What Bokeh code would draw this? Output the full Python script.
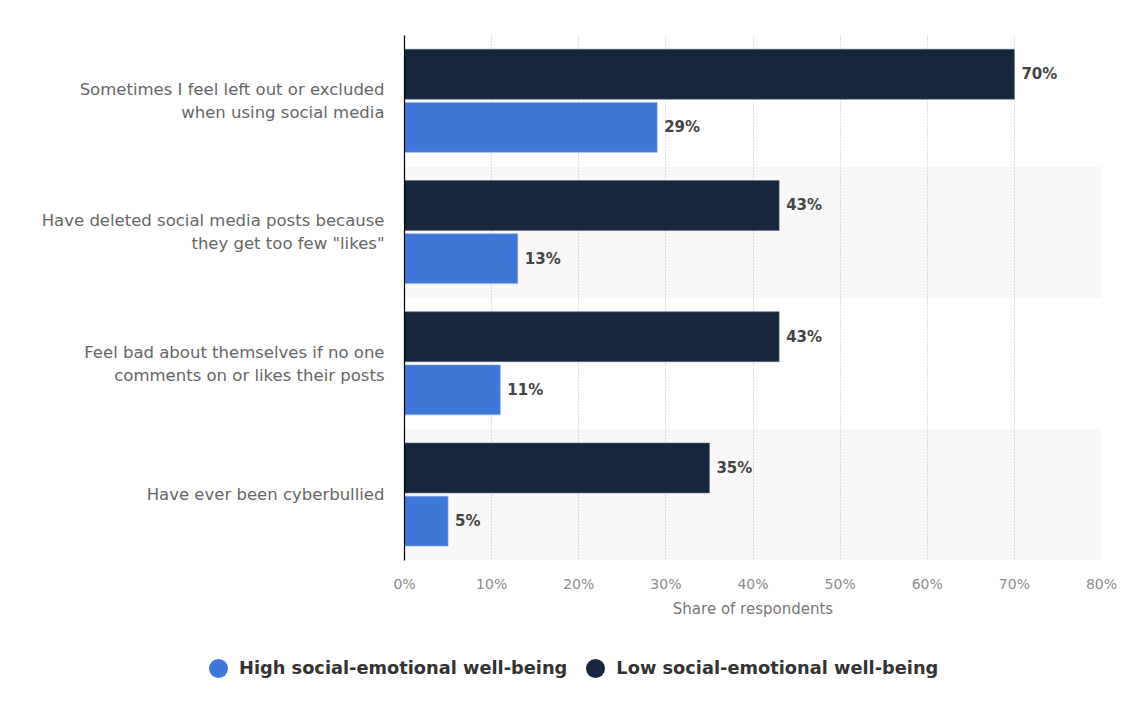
from bokeh.plotting import figure
from bokeh.layouts import column
from bokeh.models import ColumnDataSource, Range1d, FixedTicker, NumeralTickFormatter, Div
from bokeh.core.properties import value
from bokeh.embed import file_html
from bokeh.resources import INLINE

categories = [
    "Sometimes I feel left out or excluded\nwhen using social media",
    "Have deleted social media posts because\nthey get too few \"likes\"",
    "Feel bad about themselves if no one\ncomments on or likes their posts",
    "Have ever been cyberbullied",
]
low_values = [70, 43, 43, 35]
high_values = [29, 13, 11, 5]
series_names = ["High social-emotional well-being", "Low social-emotional well-being"]
x_ticks = [0, 10, 20, 30, 40, 50, 60, 70, 80]

LOW_COLOR = "#16263d"
HIGH_COLOR = "#3f77d9"
FONT = "DejaVu Sans"

idx = list(range(len(categories)))

p = figure(width=1138, height=640, output_backend="svg", toolbar_location=None,
           x_range=Range1d(0, 80), y_range=Range1d(3.5, -0.5),
           min_border_left=404, min_border_right=37, min_border_top=35, min_border_bottom=80)
p.outline_line_color = None
p.background_fill_color = "white"

# alternating bands
band_y = [i for i in idx if i % 2 == 1]
p.hbar(y=band_y, left=0, right=80, height=1.0, fill_color="#000000", fill_alpha=0.028, line_color=None)

low_src = ColumnDataSource(dict(y=[i - 0.205 for i in idx], v=low_values,
                                lab=[f"{v}%" for v in low_values]))
high_src = ColumnDataSource(dict(y=[i + 0.2 for i in idx], v=high_values,
                                 lab=[f"{v}%" for v in high_values]))

p.hbar(y="y", left=0, right="v", height=0.38, source=low_src,
       fill_color=LOW_COLOR, line_color="#5a6a80", line_width=0.6)
p.hbar(y="y", left=0, right="v", height=0.38, source=high_src,
       fill_color=HIGH_COLOR, line_color="#8fb0ea", line_width=0.6)

for src in (low_src, high_src):
    p.text(x="v", y="y", text="lab", source=src, x_offset=7, text_baseline="middle",
           text_align="left", text_font=value(FONT),
           text_font_style="bold", text_font_size="15px", text_color="#444444")

# x axis
p.xaxis.ticker = FixedTicker(ticks=x_ticks)
p.xaxis.formatter = NumeralTickFormatter(format="0")
p.xaxis.major_label_overrides = {t: f"{t}%" for t in x_ticks}
p.xaxis.axis_line_color = None
p.xaxis.major_tick_line_color = None
p.xaxis.minor_tick_line_color = None
p.xaxis.major_tick_out = 0
p.xaxis.major_label_standoff = 15
p.xaxis.major_label_text_font = FONT
p.xaxis.major_label_text_font_size = "14px"
p.xaxis.major_label_text_color = "#8c8c8c"
p.xaxis.axis_label = "Share of respondents"
p.xaxis.axis_label_text_font = FONT
p.xaxis.axis_label_text_font_size = "15px"
p.xaxis.axis_label_text_font_style = "normal"
p.xaxis.axis_label_text_color = "#777777"
p.xaxis.axis_label_standoff = 5

# y axis
p.yaxis.ticker = FixedTicker(ticks=idx)
p.yaxis.major_label_overrides = {i: c for i, c in zip(idx, categories)}
p.yaxis.axis_line_color = "#000000"
p.yaxis.axis_line_width = 1.2
p.yaxis.major_tick_line_color = None
p.yaxis.minor_tick_line_color = None
p.yaxis.major_tick_out = 0
p.yaxis.major_label_standoff = 20
p.yaxis.major_label_text_font = FONT
p.yaxis.major_label_text_font_size = "16.5px"
p.yaxis.major_label_text_color = "#666666"

p.ygrid.grid_line_color = None
p.xgrid.ticker = FixedTicker(ticks=x_ticks[1:])
p.xgrid.grid_line_color = "#bdbdbd"
p.xgrid.grid_line_dash = "1 2"
p.xgrid.grid_line_width = 1

# legend strip (HTML)
items_html = ""
for i, (name, col) in enumerate(zip(series_names, [HIGH_COLOR, LOW_COLOR])):
    ml = "0px" if i == 0 else "19px"
    items_html += (
        f'<span style="display:inline-block;width:19px;height:19px;border-radius:50%;'
        f'background:{col};margin-left:{ml};margin-right:11px;vertical-align:middle"></span>'
        f'<span style="vertical-align:middle">{name}</span>'
    )
legend_div = Div(
    text=f'<div style="white-space:nowrap;padding-left:209px;padding-top:17px;'
         f'font-family:\'{FONT}\';font-weight:bold;font-size:17.8px;color:#333333;line-height:20px">'
         f'{items_html}</div>',
    width=1138, height=78, margin=0)

open("out.html", "w").write(file_html(column(p, legend_div, spacing=0), INLINE))
